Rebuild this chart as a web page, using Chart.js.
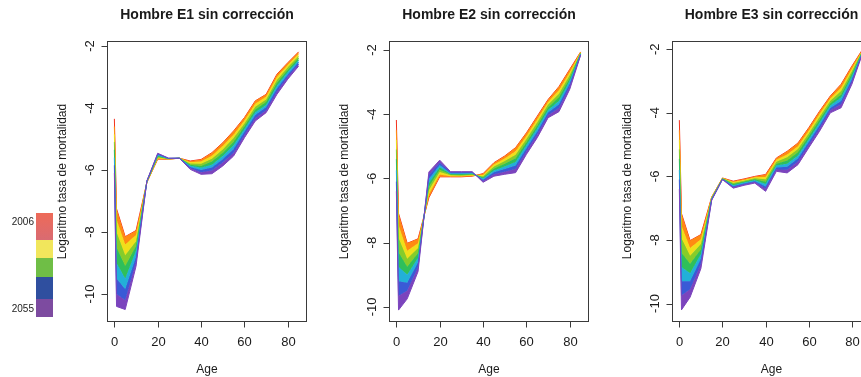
<!DOCTYPE html>
<html>
<head>
<meta charset="utf-8">
<script src="https://cdn.jsdelivr.net/npm/chart.js@4.4.1/dist/chart.umd.min.js"></script>
<style>
  html, body { margin: 0; padding: 0; overflow: hidden; background: #fff; }
  body { width: 861px; height: 377px; position: relative; font-family: "Liberation Sans", Arial, sans-serif; }
  canvas { position: absolute; top: 0; }
  .bar { position: absolute; left: 36px; width: 17px; }
  .yr { position: absolute; font-size: 10px; color: #222; width: 34px; text-align: right; left: 0; }
</style>
</head>
<body>
<canvas id="e1" width="330" height="377" style="left:0px"></canvas>
<canvas id="e2" width="283" height="377" style="left:330px"></canvas>
<canvas id="e3" width="283" height="377" style="left:613px"></canvas>

<div class="bar" style="top:213px;height:27px;background:linear-gradient(#ee6a58,#d96b72)"></div>
<div class="bar" style="top:240px;height:18px;background:#f1e65c"></div>
<div class="bar" style="top:258px;height:19px;background:#6fbe46"></div>
<div class="bar" style="top:277px;height:22px;background:#2f4f9f"></div>
<div class="bar" style="top:299px;height:18px;background:#7d4ba0"></div>
<div class="yr" style="top:216px">2006</div>
<div class="yr" style="top:303px">2055</div>

<script>
// Ages (x axis) and projection years drawn
const ages = [0, 1, 5, 10, 15, 20, 25, 30, 35, 40, 45, 50, 55, 60, 65, 70, 75, 80, 85];
const years = [2006, 2013, 2020, 2027, 2034, 2041, 2048, 2055];
const xTicks = [0, 20, 40, 60, 80];
const yTicks = [-2, -4, -6, -8, -10];

// Hombre E1 - log mortality rate by age, per year
const e1_2006 = [-4.35, -7.25, -8.15, -7.95, -6.40, -5.65, -5.65, -5.62, -5.71, -5.66, -5.44, -5.12, -4.74, -4.31, -3.77, -3.56, -2.91, -2.54, -2.19];
const e1_2013 = [-4.60, -7.60, -8.40, -8.10, -6.40, -5.62, -5.65, -5.62, -5.75, -5.73, -5.54, -5.23, -4.86, -4.40, -3.86, -3.64, -3.00, -2.61, -2.25];
const e1_2020 = [-4.85, -8.00, -8.75, -8.30, -6.39, -5.60, -5.64, -5.62, -5.79, -5.80, -5.64, -5.34, -4.97, -4.50, -3.96, -3.73, -3.10, -2.69, -2.32];
const e1_2027 = [-5.10, -8.50, -9.10, -8.45, -6.38, -5.57, -5.64, -5.62, -5.83, -5.87, -5.73, -5.44, -5.09, -4.59, -4.05, -3.81, -3.19, -2.77, -2.39];
const e1_2034 = [-5.35, -9.00, -9.50, -8.60, -6.37, -5.54, -5.63, -5.62, -5.86, -5.93, -5.83, -5.55, -5.20, -4.68, -4.14, -3.90, -3.28, -2.84, -2.45];
const e1_2041 = [-5.60, -9.50, -9.85, -8.80, -6.36, -5.51, -5.63, -5.62, -5.90, -6.00, -5.92, -5.65, -5.32, -4.77, -4.23, -3.98, -3.37, -2.92, -2.52];
const e1_2048 = [-5.85, -10.00, -10.20, -8.95, -6.36, -5.48, -5.62, -5.62, -5.94, -6.07, -6.02, -5.76, -5.44, -4.87, -4.33, -4.07, -3.47, -2.99, -2.59];
const e1_2055 = [-6.10, -10.40, -10.50, -9.10, -6.35, -5.46, -5.62, -5.62, -5.98, -6.14, -6.12, -5.87, -5.55, -4.96, -4.42, -4.15, -3.56, -3.07, -2.65];

// Hombre E2
const e2_2006 = [-4.18, -7.09, -8.02, -7.88, -6.60, -5.95, -5.95, -5.95, -5.93, -5.85, -5.51, -5.30, -5.04, -4.58, -4.06, -3.54, -3.14, -2.60, -2.06];
const e2_2013 = [-4.50, -7.45, -8.25, -8.02, -6.50, -5.88, -5.93, -5.93, -5.91, -5.89, -5.57, -5.38, -5.15, -4.68, -4.16, -3.62, -3.25, -2.69, -2.07];
const e2_2020 = [-4.80, -7.85, -8.50, -8.17, -6.37, -5.80, -5.90, -5.91, -5.89, -5.93, -5.63, -5.46, -5.26, -4.77, -4.25, -3.70, -3.36, -2.78, -2.09];
const e2_2027 = [-5.10, -8.30, -8.75, -8.32, -6.25, -5.73, -5.88, -5.89, -5.87, -5.97, -5.69, -5.54, -5.37, -4.87, -4.35, -3.78, -3.47, -2.87, -2.10];
const e2_2034 = [-5.40, -8.75, -9.00, -8.47, -6.14, -5.65, -5.86, -5.86, -5.85, -6.00, -5.75, -5.63, -5.49, -4.96, -4.44, -3.87, -3.59, -2.95, -2.12];
const e2_2041 = [-5.75, -9.20, -9.25, -8.61, -6.02, -5.58, -5.84, -5.84, -5.83, -6.04, -5.81, -5.71, -5.60, -5.06, -4.54, -3.95, -3.70, -3.04, -2.13];
const e2_2048 = [-6.10, -9.65, -9.50, -8.76, -5.90, -5.50, -5.81, -5.81, -5.81, -6.08, -5.87, -5.79, -5.71, -5.15, -4.63, -4.03, -3.81, -3.13, -2.15];
const e2_2055 = [-6.40, -10.10, -9.75, -8.90, -5.80, -5.43, -5.79, -5.79, -5.79, -6.12, -5.93, -5.87, -5.82, -5.25, -4.73, -4.11, -3.92, -3.22, -2.16];

// Hombre E3
const e3_2006 = [-4.23, -7.17, -8.02, -7.83, -6.65, -6.05, -6.15, -6.08, -6.00, -5.94, -5.42, -5.21, -4.95, -4.47, -3.95, -3.47, -3.10, -2.53, -2.00];
const e3_2013 = [-4.55, -7.55, -8.25, -7.98, -6.66, -6.06, -6.18, -6.11, -6.03, -6.02, -5.48, -5.31, -5.05, -4.56, -4.04, -3.55, -3.21, -2.61, -2.02];
const e3_2020 = [-4.85, -7.95, -8.50, -8.13, -6.68, -6.06, -6.21, -6.14, -6.06, -6.09, -5.54, -5.40, -5.14, -4.65, -4.13, -3.62, -3.31, -2.69, -2.03];
const e3_2027 = [-5.15, -8.40, -8.75, -8.29, -6.69, -6.07, -6.24, -6.17, -6.09, -6.17, -5.60, -5.50, -5.24, -4.74, -4.22, -3.70, -3.42, -2.77, -2.05];
const e3_2034 = [-5.45, -8.85, -9.05, -8.44, -6.71, -6.08, -6.28, -6.19, -6.12, -6.24, -5.66, -5.60, -5.34, -4.83, -4.31, -3.77, -3.52, -2.86, -2.07];
const e3_2041 = [-5.80, -9.30, -9.30, -8.59, -6.72, -6.09, -6.31, -6.22, -6.15, -6.32, -5.72, -5.70, -5.44, -4.92, -4.40, -3.85, -3.63, -2.94, -2.09];
const e3_2048 = [-6.10, -9.75, -9.55, -8.75, -6.74, -6.09, -6.34, -6.25, -6.18, -6.39, -5.78, -5.79, -5.53, -5.01, -4.49, -3.92, -3.73, -3.02, -2.10];
const e3_2055 = [-6.40, -10.20, -9.80, -8.90, -6.75, -6.10, -6.37, -6.28, -6.21, -6.47, -5.84, -5.89, -5.63, -5.10, -4.58, -4.00, -3.84, -3.10, -2.12];

// rainbow palette, 2006 -> 2055
const colors = ['#f22b1c', '#ff8a12', '#f0df1a', '#86cc2a', '#2fbf5a', '#22b0d8', '#3a5ad6', '#7b44bd'];

const FONT = '"Liberation Sans", Arial, sans-serif';

// R-like frame, ticks and labels drawn from the chart's scales
const rAxes = {
  id: 'rAxes',
  afterDraw(chart, args, opts) {
    const { ctx, chartArea: a, scales: { x, y } } = chart;
    const L = Math.round(a.left) + 0.5, R = Math.round(a.right) + 0.5;
    const T = Math.round(a.top) + 0.5, B = Math.round(a.bottom) + 0.5;
    ctx.save();
    ctx.strokeStyle = '#3a3a3a';
    ctx.lineWidth = 1;
    ctx.strokeRect(L, T, R - L, B - T);
    ctx.fillStyle = '#1a1a1a';
    ctx.font = '13px ' + FONT;
    ctx.textAlign = 'center';
    ctx.textBaseline = 'middle';
    ctx.beginPath();
    xTicks.forEach(v => {
      const px = Math.round(x.getPixelForValue(v)) + 0.5;
      ctx.moveTo(px, B); ctx.lineTo(px, B + 6);
      ctx.fillText(String(v), px, B + 21);
    });
    yTicks.forEach(v => {
      const py = Math.round(y.getPixelForValue(v)) + 0.5;
      ctx.moveTo(L - 6, py); ctx.lineTo(L, py);
    });
    ctx.stroke();
    yTicks.forEach(v => {
      const py = y.getPixelForValue(v);
      ctx.save();
      ctx.translate(L - 17, py);
      ctx.rotate(-Math.PI / 2);
      ctx.fillText(String(v), 0, 0);
      ctx.restore();
    });
    ctx.font = '12px ' + FONT;
    ctx.fillText('Age', (L + R) / 2, B + 48);
    ctx.save();
    ctx.translate(L - 45, (T + B) / 2);
    ctx.rotate(-Math.PI / 2);
    ctx.fillText('Logaritmo tasa de mortalidad', 0, 0);
    ctx.restore();
    ctx.font = 'bold 14px ' + FONT;
    ctx.fillText(opts.title, (L + R) / 2, 15);
    ctx.restore();
  }
};

function makePanel(id, title, curves, yMin, yMax, pad) {
  const datasets = curves.map((vals, k) => ({
    label: String(years[k]),
    data: ages.map((a, i) => ({ x: a, y: vals[i] })),
    borderColor: colors[k],
    backgroundColor: colors[k],
    borderWidth: 1,
    pointRadius: 0,
    tension: 0,
    fill: k === 0 ? false : '-1',
    order: curves.length - k
  }));
  return new Chart(document.getElementById(id), {
    type: 'line',
    data: { datasets },
    options: {
      responsive: false,
      animation: false,
      layout: { padding: pad },
      scales: {
        x: { type: 'linear', min: -3.4, max: 88.4, display: false },
        y: { min: yMin, max: yMax, display: false }
      },
      plugins: {
        legend: { display: false },
        tooltip: { enabled: false },
        rAxes: { title }
      }
    },
    plugins: [rAxes]
  });
}

makePanel('e1', 'Hombre E1 sin corrección',
  [e1_2006, e1_2013, e1_2020, e1_2027, e1_2034, e1_2041, e1_2048, e1_2055],
  -10.87, -1.84, { left: 107, right: 24, top: 41, bottom: 56 });
makePanel('e2', 'Hombre E2 sin corrección',
  [e2_2006, e2_2013, e2_2020, e2_2027, e2_2034, e2_2041, e2_2048, e2_2055],
  -10.44, -1.72, { left: 59, right: 25, top: 41, bottom: 56 });
makePanel('e3', 'Hombre E3 sin corrección',
  [e3_2006, e3_2013, e3_2020, e3_2027, e3_2034, e3_2041, e3_2048, e3_2055],
  -10.55, -1.74, { left: 59, right: 26, top: 41, bottom: 56 });
</script>
</body>
</html>
